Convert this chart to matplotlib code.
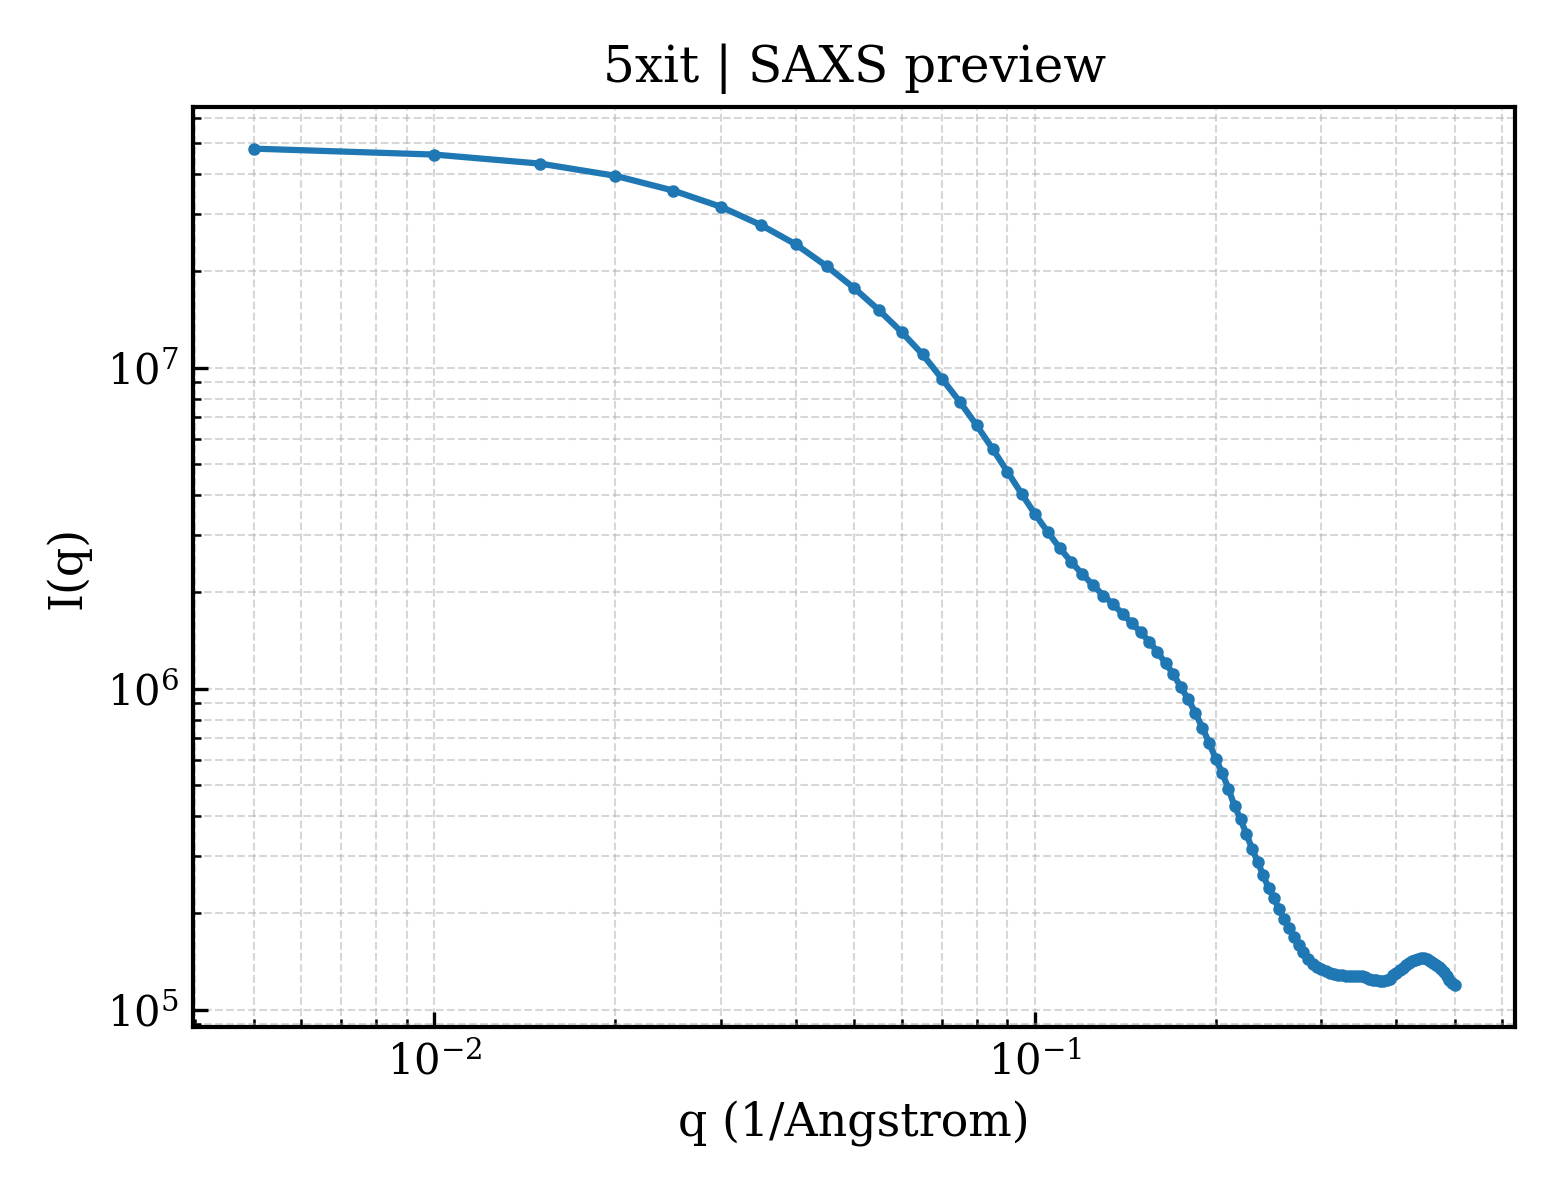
import numpy as np
import matplotlib
matplotlib.use("Agg")
import matplotlib.pyplot as plt

plt.rcParams['font.family'] = ['DejaVu Serif']
plt.rcParams['mathtext.fontset'] = 'dejavuserif'

q = [0.005, 0.010, 0.015, 0.020, 0.025, 0.030, 0.035, 0.040, 0.045, 0.050,
     0.055, 0.060, 0.065, 0.070, 0.075, 0.080, 0.085, 0.090, 0.095, 0.100,
     0.105, 0.110, 0.115, 0.120, 0.125, 0.130, 0.135, 0.140, 0.145, 0.150,
     0.155, 0.160, 0.165, 0.170, 0.175, 0.180, 0.185, 0.190, 0.195, 0.200,
     0.205, 0.210, 0.215, 0.220, 0.225, 0.230, 0.235, 0.240, 0.245, 0.250,
     0.255, 0.260, 0.265, 0.270, 0.275, 0.280, 0.285, 0.290, 0.295, 0.300,
     0.305, 0.310, 0.315, 0.320, 0.325, 0.330, 0.335, 0.340, 0.345, 0.350,
     0.355, 0.360, 0.365, 0.370, 0.375, 0.380, 0.385, 0.390, 0.395, 0.400,
     0.405, 0.410, 0.415, 0.420, 0.425, 0.430, 0.435, 0.440, 0.445, 0.450,
     0.455, 0.460, 0.465, 0.470, 0.475, 0.480, 0.485, 0.490, 0.495, 0.500]

intensity = [4.81e7, 4.61e7, 4.32e7, 3.96e7, 3.56e7, 3.17e7, 2.78e7, 2.42e7, 2.07e7, 1.77e7,
             1.51e7, 1.29e7, 1.10e7, 9.24e6, 7.82e6, 6.61e6, 5.59e6, 4.74e6, 4.05e6, 3.50e6,
             3.08e6, 2.74e6, 2.48e6, 2.27e6, 2.10e6, 1.95e6, 1.83e6, 1.71e6, 1.60e6, 1.50e6,
             1.40e6, 1.30e6, 1.20e6, 1.11e6, 1.01e6, 9.27e5, 8.40e5, 7.56e5, 6.79e5, 6.05e5,
             5.47e5, 4.88e5, 4.31e5, 3.92e5, 3.52e5, 3.17e5, 2.88e5, 2.62e5, 2.39e5, 2.22e5,
             2.06e5, 1.91e5, 1.79e5, 1.68e5, 1.59e5, 1.51e5, 1.44e5, 1.39e5, 1.36e5, 1.34e5,
             1.32e5, 1.30e5, 1.29e5, 1.28e5, 1.28e5, 1.27e5, 1.27e5, 1.27e5, 1.27e5, 1.27e5,
             1.26e5, 1.25e5, 1.24e5, 1.24e5, 1.23e5, 1.23e5, 1.24e5, 1.25e5, 1.28e5, 1.30e5,
             1.33e5, 1.35e5, 1.38e5, 1.40e5, 1.42e5, 1.43e5, 1.44e5, 1.45e5, 1.45e5, 1.44e5,
             1.42e5, 1.40e5, 1.38e5, 1.36e5, 1.34e5, 1.31e5, 1.27e5, 1.24e5, 1.21e5, 1.19e5]

title = "5xit | SAXS preview"
xlabel = "q (1/Angstrom)"
ylabel = "I(q)"

fig, ax = plt.subplots(figsize=(5.2, 4.0), dpi=300)
fig.subplots_adjust(left=0.124, right=0.971, top=0.911, bottom=0.144)

ax.plot(q, intensity, '-o', color='#1f77b4', lw=1.5, ms=2.0)
ax.set_xscale('log')
ax.set_yscale('log')

ax.set_title(title, fontsize=12)
ax.set_xlabel(xlabel, fontsize=11)
ax.set_ylabel(ylabel, fontsize=11)

ax.tick_params(which='both', direction='in', top=False, right=False, labelsize=10)
ax.grid(True, which='both', ls='--', lw=0.5, alpha=0.5)
for s in ax.spines.values():
    s.set_linewidth(1.0)

fig.savefig('out.png', dpi=300)
